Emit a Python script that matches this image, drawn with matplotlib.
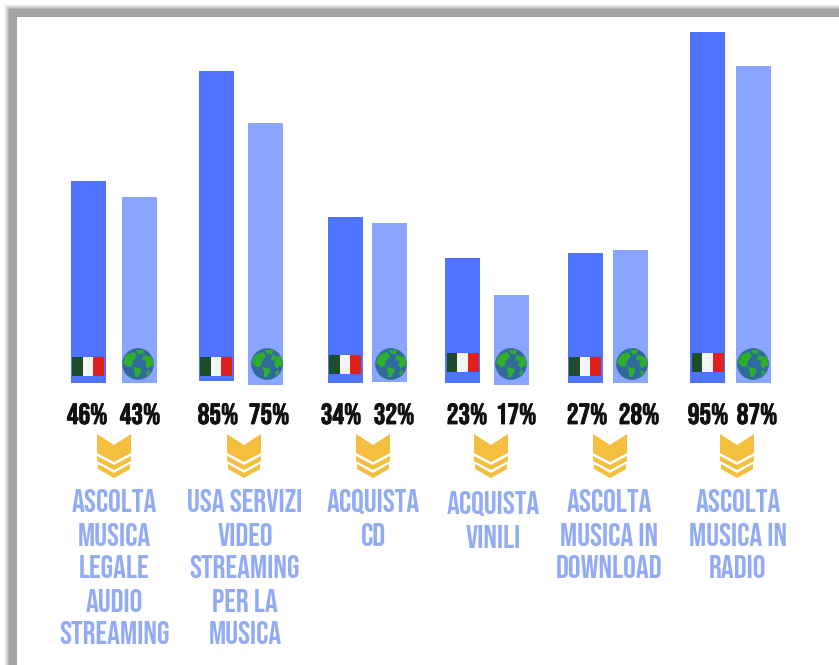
import matplotlib
matplotlib.use("Agg")
import matplotlib.pyplot as plt
import matplotlib.patheffects as pe
from matplotlib.patches import Rectangle, Circle, Polygon

# values printed under the bars
italy_pct = [46, 85, 34, 23, 27, 95]
world_pct = [43, 75, 32, 17, 28, 87]
# bar heights as drawn in the picture (not quite proportional to the labels)
italy_height = [202, 310, 166, 125, 130, 351]
world_height = [186, 262, 159, 90, 133, 317]
categories = [
    "ASCOLTA\nMUSICA\nLEGALE\nAUDIO\nSTREAMING",
    "USA SERVIZI\nVIDEO\nSTREAMING\nPER LA\nMUSICA",
    "ACQUISTA\nCD",
    "ACQUISTA\nVINILI",
    "ASCOLTA\nMUSICA IN\nDOWNLOAD",
    "ASCOLTA\nMUSICA IN\nRADIO",
]

# layout
W, H = 839, 665
BASE = 383
italy_x = [88, 216, 345, 462.5, 585, 707.5]
world_x = [139.5, 265, 389, 511, 630.5, 753]
italy_bottom = [0, 2, 0, 0, 0, 0]
world_bottom = [0, -2, 1, -2, 0, 0]
globe_x = [138, 267, 391, 511, 632, 753]
italy_lab_x = [87, 218, 341, 467, 587, 708]
world_lab_x = [140, 269, 394, 516, 639, 757]
chev_x = [114, 244, 373, 491, 610, 737]
text_x = [114, 245, 373, 493, 609, 738]
text_y = [501, 501, 501, 503, 501, 501]
flag_y = [357, 357, 355, 353, 357, 353]
BLUE = "#4F73FF"
LIGHT = "#8AA5FF"
GOLD = "#F4BE3E"
CONDENSED = ["Bebas Neue", "Oswald", "DejaVu Sans"]


def py(y):
    # picture row -> data units above the baseline
    return BASE - y


fig = plt.figure(figsize=(W / 100, H / 100), dpi=100, facecolor="white")
ax = fig.add_axes([0, 0, 1, 1])
ax.set_xlim(0, W)
ax.set_ylim(py(H), py(0))
ax.axis("off")

# soft grey frame on top and left
for i, a in enumerate([0.05, 0.08, 0.12, 0.16, 0.2, 0.3]):
    ax.add_patch(Rectangle((4 + i, py(H + 50)), W + 50, H + 50 - 4 - i, fc="#707070", ec="none", alpha=a, zorder=0))
ax.add_patch(Rectangle((17, py(H + 50)), W, H + 50 - 17, fc="white", ec="none", zorder=0.5))


def draw_flag(x, y):
    w = 32 / 3
    for j, c in enumerate(["#1E4D2B", "#F5F5F5", "#E0201C"]):
        ax.add_patch(Rectangle((x - 16 + j * w, py(y + 19)), w, 19, fc=c, ec="none", zorder=3))


def draw_globe(x, y):
    disc = Circle((x, py(y)), 15.5, fc="#2F6A9E", ec="#3F6F96", lw=0.5, zorder=3)
    ax.add_patch(disc)
    lands = [
        [(-12, -9), (-4, -12), (-1, -8), (-5, -3), (-6, 2), (-10, 3), (-15, -1)],
        [(-2, -14), (6, -14), (5, -10), (0, -10)],
        [(5, -9), (14, -7), (16, 2), (12, 2), (10, 5), (7, 0), (9, -3), (4, -4)],
        [(-5, 3), (1, 4), (4, 6), (0, 13), (-3, 13), (-3, 8)],
        [(8, 8), (11, 6), (12, 9), (9, 12)],
    ]
    for pts in lands:
        land = Polygon([(x + a, py(y + b)) for a, b in pts], closed=True, fc="#2FAE2B", ec="none", zorder=4)
        ax.add_patch(land)
        land.set_clip_path(disc)


def draw_chevrons(x, y):
    big = [(-17, 0), (0, 11), (17, 0), (17, 19), (0, 28), (-17, 19)]
    mid = [(-17, 22), (0, 31), (17, 22), (17, 27), (0, 36), (-17, 27)]
    low = [(-16, 30), (0, 39), (16, 30), (16, 35), (0, 44), (-16, 35)]
    for pts in (big, mid, low):
        ax.add_patch(Polygon([(x + a, py(y + b)) for a, b in pts], closed=True, fc=GOLD, ec="none", zorder=3))


ax.bar(italy_x, italy_height, bottom=italy_bottom, width=35, color=BLUE, zorder=2)
ax.bar(world_x, world_height, bottom=world_bottom, width=35, color=LIGHT, zorder=2)

heavy = [pe.withStroke(linewidth=0.6, foreground="#111111")]
for i in range(len(categories)):
    draw_flag(italy_x[i], flag_y[i])
    draw_globe(globe_x[i], 364)
    ax.text(italy_lab_x[i], py(413.5), f"{italy_pct[i]}%", ha="center", va="center",
            fontsize=21, family=CONDENSED, color="#111111", path_effects=heavy)
    ax.text(world_lab_x[i], py(413.5), f"{world_pct[i]}%", ha="center", va="center",
            fontsize=21, family=CONDENSED, color="#111111", path_effects=heavy)
    draw_chevrons(chev_x[i], 434)
    for k, line in enumerate(categories[i].split("\n")):
        ax.text(text_x[i], py(text_y[i] + 33 * k), line, ha="center", va="center",
                fontsize=23, family=CONDENSED, color="#92ABF5")

fig.savefig("out.png", dpi=100)
